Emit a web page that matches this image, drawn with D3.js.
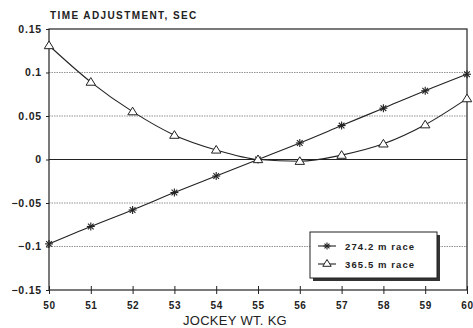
<!DOCTYPE html>
<html><head><meta charset="utf-8">
<script src="https://cdn.jsdelivr.net/npm/d3@7"></script>
<style>body{margin:0;background:#fff}svg{display:block}</style>
</head><body><svg id="c" width="473" height="328"></svg>
<script>
const weights = [50,51,52,53,54,55,56,57,58,59,60];
const race274 = [-0.097,-0.077,-0.058,-0.038,-0.019,0,0.019,0.039,0.059,0.079,0.098];
const race366 = [0.131,0.089,0.055,0.028,0.011,0,-0.002,0.005,0.018,0.040,0.070];
const yTicks = [-0.15,-0.1,-0.05,0,0.05,0.1,0.15];
const seriesNames = ["274.2 m race","365.5 m race"];

const svg = d3.select("#c");
const m = {l:49, r:467, t:29, b:290};
const x = d3.scaleLinear().domain([50,60]).range([m.l,m.r]);
const y = d3.scaleLinear().domain([-0.15,0.15]).range([m.b,m.t]);
const ink = "#222";
const font = "Liberation Sans, Arial, sans-serif";

// gridlines
svg.append("g").selectAll("line").data(yTicks.filter(v=>v!==0 && Math.abs(v)!==0.15)).join("line")
  .attr("x1",m.l).attr("x2",m.r).attr("y1",d=>y(d)).attr("y2",d=>y(d))
  .attr("stroke","#777").attr("stroke-width",0.8).attr("stroke-dasharray","1.5,1");
svg.append("line").attr("x1",m.l).attr("x2",m.r).attr("y1",y(0)).attr("y2",y(0))
  .attr("stroke",ink).attr("stroke-width",1);
// frame
svg.append("rect").attr("x",m.l).attr("y",m.t).attr("width",m.r-m.l).attr("height",m.b-m.t)
  .attr("fill","none").attr("stroke",ink).attr("stroke-width",1.2);

// axes
const yAxis = d3.axisLeft(y).tickValues(yTicks).tickSize(3)
  .tickFormat(d => d===0 ? "0" : d3.format("")(+d.toFixed(2)));
const gy = svg.append("g").attr("transform",`translate(${m.l},0)`).call(yAxis);
gy.select(".domain").remove();
gy.selectAll("line").attr("stroke",ink);
gy.selectAll("text").attr("font-family",font).attr("font-weight","bold").attr("font-size",10.5)
  .attr("letter-spacing",0.8).attr("fill",ink).attr("dx",-1);

const xAxis = d3.axisBottom(x).tickValues(weights).tickSize(4).tickFormat(d3.format("d"));
const gx = svg.append("g").attr("transform",`translate(0,${m.b})`).call(xAxis);
gx.select(".domain").remove();
gx.selectAll("line").attr("stroke",ink).attr("y1",-4).attr("y2",4);
gx.selectAll("text").attr("font-family",font).attr("font-weight","bold").attr("font-size",10)
  .attr("letter-spacing",0.6).attr("fill",ink).attr("dy","1.2em");

// titles
svg.append("text").attr("x",50).attr("y",19).text("TIME ADJUSTMENT, SEC")
  .attr("font-family",font).attr("font-weight","bold").attr("font-size",10).attr("letter-spacing",1.4).attr("fill",ink);
svg.append("text").attr("x",235).attr("y",325).attr("text-anchor","middle").text("JOCKEY WT. KG")
  .attr("font-family",font).attr("font-size",13).attr("letter-spacing",0.3).attr("fill",ink);

// lines
const line = d3.line().x((d,i)=>x(weights[i])).y(d=>y(d)).curve(d3.curveMonotoneX);
[race274, race366].forEach(s=>{
  svg.append("path").datum(s).attr("d",line).attr("fill","none").attr("stroke",ink).attr("stroke-width",1.1);
});

function star(g, cx, cy, r){
  for(let k=0;k<4;k++){
    const a = k*Math.PI/4;
    g.append("line").attr("x1",cx-r*Math.cos(a)).attr("y1",cy-r*Math.sin(a))
      .attr("x2",cx+r*Math.cos(a)).attr("y2",cy+r*Math.sin(a)).attr("stroke",ink).attr("stroke-width",1.1);
  }
}
function tri(g, cx, cy, r){
  g.append("path").attr("d",`M${cx},${cy-r}L${cx+r*1.05},${cy+r*0.7}L${cx-r*1.05},${cy+r*0.7}Z`)
    .attr("fill","#fff").attr("stroke",ink).attr("stroke-width",1);
}
const gm = svg.append("g");
race274.forEach((v,i)=>star(gm, x(weights[i]), y(v), 4));
race366.forEach((v,i)=>tri(gm, x(weights[i]), y(v), 4.5));

// legend
const lg = svg.append("g");
lg.append("rect").attr("x",313).attr("y",235).attr("width",127).attr("height",46).attr("fill","#333");
lg.append("rect").attr("x",310).attr("y",232).attr("width",127).attr("height",46).attr("fill","#fff").attr("stroke",ink).attr("stroke-width",1);
[0,1].forEach(i=>{
  const yy = 246 + i*18;
  lg.append("line").attr("x1",318).attr("x2",336).attr("y1",yy).attr("y2",yy).attr("stroke",ink).attr("stroke-width",1.1);
  if(i===0) star(lg,327,yy,3.5); else tri(lg,327,yy-0.5,4);
  lg.append("text").attr("x",345).attr("y",yy+3.5).text(seriesNames[i])
    .attr("font-family",font).attr("font-weight","bold").attr("font-size",9.5).attr("letter-spacing",1.1).attr("fill",ink);
});
</script></body></html>
